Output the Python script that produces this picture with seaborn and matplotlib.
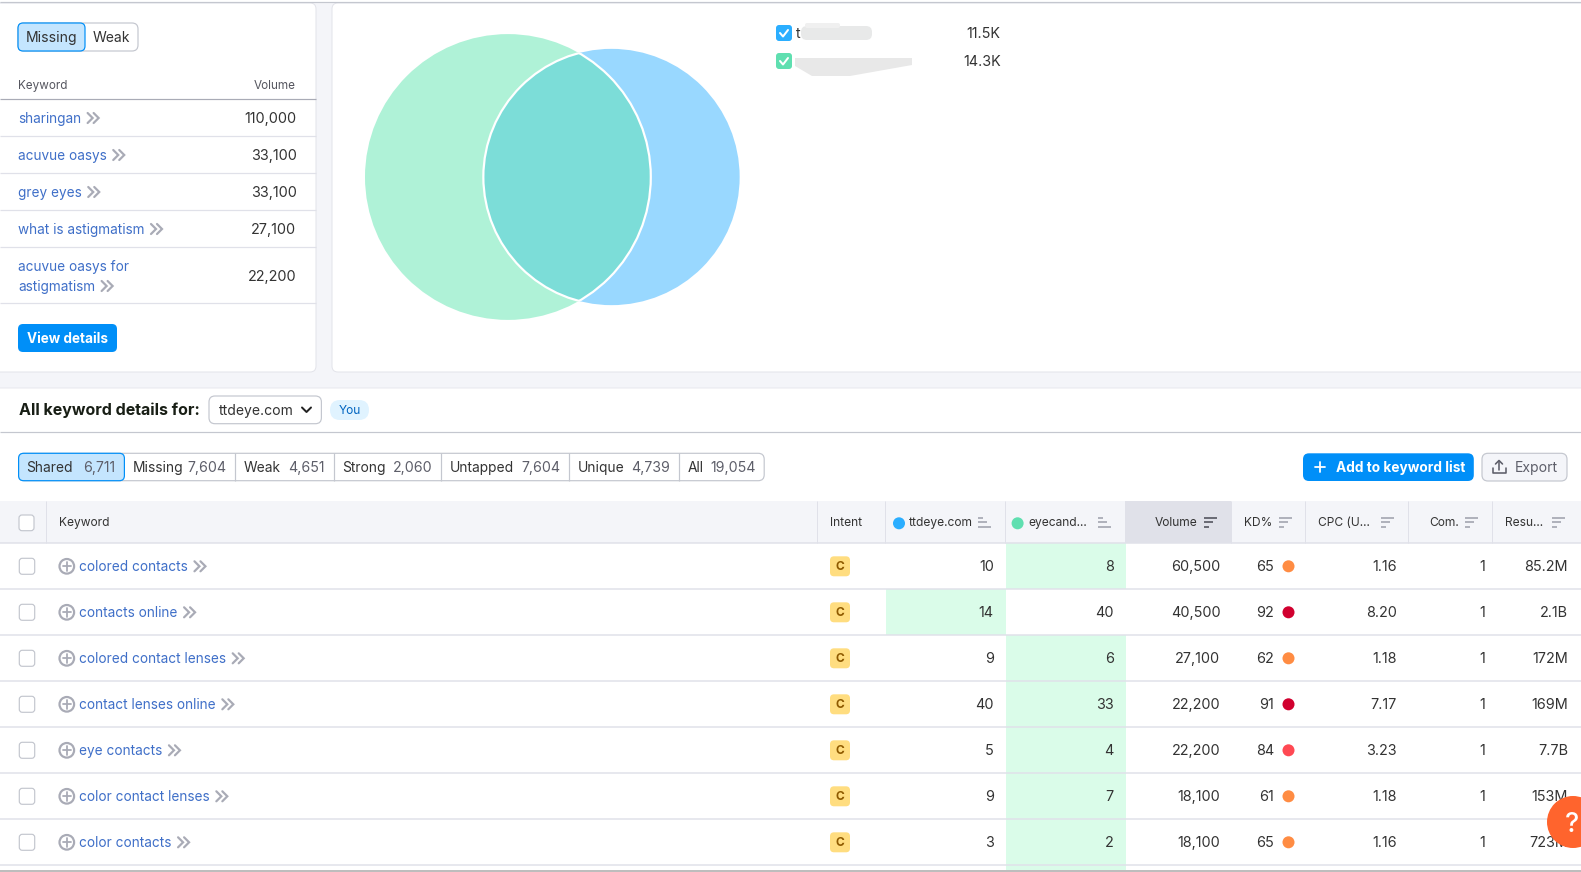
import numpy as np
import pandas as pd
import matplotlib
matplotlib.use("Agg")
import matplotlib.pyplot as plt
from matplotlib.patches import Circle, FancyBboxPatch, Rectangle, Polygon
import seaborn as sns

# ---------- data ----------
missing_keywords = ["sharingan", "acuvue oasys", "grey eyes", "what is astigmatism"]
missing_volumes = ["110,000", "33,100", "33,100", "27,100"]
domain_sizes = [11500, 14300]
domain_size_labels = ["11.5K", "14.3K"]
tab_names = ["Shared", "Missing", "Weak", "Strong", "Untapped", "Unique", "All"]
tab_counts = ["6,711", "7,604", "4,651", "2,060", "7,604", "4,739", "19,054"]
keywords = ["colored contacts", "contacts online", "colored contact lenses",
            "contact lenses online", "eye contacts", "color contact lenses", "color contacts"]
rank_ttdeye = [10, 14, 9, 40, 5, 9, 3]
rank_eyecandy = [8, 40, 6, 33, 4, 7, 2]
volumes = ["60,500", "40,500", "27,100", "22,200", "22,200", "18,100", "18,100"]
kd = [65, 92, 62, 91, 84, 61, 65]
cpc = ["1.16", "8.20", "1.18", "7.17", "3.23", "1.18", "1.16"]
com = [1, 1, 1, 1, 1, 1, 1]
results = ["85.2M", "2.1B", "172M", "169M", "7.7B", "153M", "723M"]

# ---------- style ----------
sns.set_theme(style="white")
plt.rcParams["font.family"] = ["Inter", "DejaVu Sans"]
W, H = 1581, 872
PAGE, LINE, GREY, TXT, MUTED, LINK = "#F4F5F9", "#E0E1E9", "#A9ABB6", "#333333", "#5E5F6A", "#3F6FC8"
BLUE = "#008FF8"
px = 0.72  # font px -> pt at dpi 100
LINK_SIZE = 13.6
NUM_SIZE = 14.4

fig = plt.figure(figsize=(W / 100, H / 100), dpi=100, facecolor=PAGE)
ax = fig.add_axes([0, 0, 1, 1])
ax.set_xlim(0, W)
ax.set_ylim(H, 0)
ax.axis("off")


def box(x0, y0, x1, y1, fc="white", ec="none", r=0, lw=1.0, z=1):
    p = FancyBboxPatch((x0, y0), x1 - x0, y1 - y0, boxstyle=f"round,pad=0,rounding_size={r}",
                       fc=fc, ec=ec, lw=lw * px, mutation_aspect=1, zorder=z)
    ax.add_patch(p)
    return p


def txt(x, y, s, size=14, color=TXT, ha="left", weight="normal", z=6):
    return ax.text(x, y - 0.8, s, fontsize=size * px, color=color, ha=ha, va="center_baseline",
                   fontweight=weight, zorder=z)


def num(x, y, s):
    return txt(x + 1, y, s, size=NUM_SIZE, ha="right")


def hline(y, x0, x1, color=LINE, lw=1.5, z=3):
    ax.plot([x0, x1], [y, y], color=color, lw=lw * px, zorder=z, solid_capstyle="butt")


def vline(x, y0, y1, color=LINE, lw=1.0, z=3):
    ax.plot([x, x], [y0, y1], color=color, lw=lw * px, zorder=z, solid_capstyle="butt")


def chevrons(t, y):
    bb = t.get_window_extent(fig.canvas.get_renderer())
    x = bb.x1 + 6.5
    for dx in (0, 6):
        ax.plot([x + dx, x + dx + 5, x + dx], [y - 5, y, y + 5], color=GREY, lw=2.2 * px,
                zorder=6, solid_joinstyle="miter")


def sort_icon(x, y, ascending=False, color=GREY):
    lens = [13, 9, 5]
    if ascending:
        lens = lens[::-1]
    for i, ln in enumerate(lens):
        ax.plot([x - 6.5, x - 6.5 + ln], [y - 4.5 + 4.5 * i] * 2, color=color, lw=1.8 * px,
                zorder=6, solid_capstyle="butt")


def checkbox(x0, y0, x1, y1):
    box(x0, y0, x1, y1, fc="white", ec="#C4C7CF", r=3, lw=1.2, z=6)


# ---------- cards ----------
hline(2.5, 0, W, color="#C4C7CF", lw=1.2, z=4)
ax.add_patch(Rectangle((0, 0), W, 2.5, fc="white", ec="none", zorder=0.5))
box(-10, 3, 316, 372, ec="#E3E4EA", r=6)
box(332, 3, W + 10, 372, ec="#E3E4EA", r=6)
box(-10, 388, W + 10, H + 10, ec="#E8E9EE", r=6)

# ---------- left panel ----------
box(18, 23, 138, 51, fc="white", ec="#C4C7CF", r=6, lw=1.2, z=3)
box(18, 23, 85, 51, fc="#C4E5FE", ec=BLUE, r=5, lw=1.2, z=4)
txt(51.5, 37.5, "Missing", ha="center")
txt(111.5, 37.5, "Weak", ha="center")
txt(18, 85, "Keyword", size=11.7, color="#55565F")
txt(295.5, 85, "Volume", size=11.7, color="#55565F", ha="right")
hline(99.5, 0, 316, color=GREY, lw=1.2)
for i, (k, v) in enumerate(zip(missing_keywords, missing_volumes)):
    y = 118 + 37 * i
    chevrons(txt(18, y, k, size=LINK_SIZE, color=LINK), y)
    num(295.5, y, v)
    hline(136.5 + 37 * i, 0, 316, lw=1.2)
txt(18, 266, "acuvue oasys for", size=LINK_SIZE, color=LINK)
chevrons(txt(18, 286, "astigmatism", size=LINK_SIZE, color=LINK), 286)
num(295.5, 276, "22,200")
hline(303.5, 0, 316, lw=1.2)
box(18, 324, 117, 352, fc=BLUE, r=5, z=3)
txt(67.5, 338, "View details", size=13.5, color="white", ha="center", weight="bold")

# ---------- venn: radii follow the domain sizes ----------
k_r = 1.195
r_blue, r_green = [k_r * np.sqrt(v) for v in domain_sizes]
cy = 177
cx_green, cx_blue = 507.9, 611.5
ax.add_patch(Circle((cx_blue, cy), r_blue, fc="#99D8FF", ec="none", zorder=2))
ax.add_patch(Circle((cx_green, cy), r_green, fc="#AFF2D7", ec="none", zorder=2.1))
lens = Circle((cx_blue, cy), r_blue, fc="#7CDDD8", ec="white", lw=2.2 * px, zorder=2.3)
ax.add_patch(lens)
clip = Circle((cx_green, cy), r_green, transform=ax.transData)
lens.set_clip_path(clip)
ring = Circle((cx_green, cy), r_green, fc="none", ec="white", lw=2.2 * px, zorder=2.4)
ax.add_patch(ring)
ring.set_clip_path(Circle((cx_blue, cy), r_blue, transform=ax.transData))

for y, c, lab in zip((33, 61), ("#2BAEFF", "#5FDFB0"), domain_size_labels):
    box(776, y - 8, 792, y + 8, fc=c, r=3, z=3)
    ax.plot([780, 783, 788], [y, y + 3.5, y - 3], color="white", lw=2 * px, zorder=6)
    num(999.6, y, lab)
txt(796, 33, "t", color=TXT)
box(801, 26, 872, 40, fc="#E8E9E9", r=6, z=7)
box(805, 23, 840, 28, fc="#F0F0F0", r=2, z=7)
ax.add_patch(Polygon([(795, 58), (912, 58), (912, 65), (850, 76), (812, 76), (795, 66)],
                     fc="#E8E8E8", ec="none", zorder=7))

# ---------- detail header ----------
txt(18.6, 410, "All keyword details for:", size=16, color="#181E15", weight="bold")
box(209, 396, 321.4, 423.7, fc="white", ec="#C4C7CF", r=6, lw=1.2, z=3)
txt(219, 410, "ttdeye.com")
ax.plot([302, 306.5, 311], [407.5, 412, 407.5], color="#222222", lw=2 * px, zorder=6)
box(330, 400, 369, 420, fc="#E0F3FF", r=10, z=3)
txt(349.5, 410, "You", size=12, color="#0064C0", ha="center")
hline(432.3, 0, W, color="#C4C7CF", lw=1.2)

# ---------- tabs ----------
tab_edges = [18.6, 124.4, 235.3, 333.5, 441.3, 569.3, 678.6, 764.2]
tab_label_x = [26.5, 133, 243.8, 342.6, 450, 577.8, 687.7]
tab_count_x = [115.4, 226.7, 325, 432, 560, 669.5, 756]
box(tab_edges[0], 453.3, tab_edges[-1], 480.7, fc="white", ec="#C4C7CF", r=6, lw=1.2, z=3)
box(tab_edges[0], 453.3, tab_edges[1], 480.7, fc="#C4E5FE", ec=BLUE, r=5, lw=1.2, z=4)
for e in tab_edges[2:-1]:
    vline(e, 453.3, 480.7, color="#C4C7CF", lw=1.2)
for n, c, lx, rx in zip(tab_names, tab_counts, tab_label_x, tab_count_x):
    txt(lx, 467.5, n, size=13.8)
    txt(rx, 467.5, c, size=14.2, ha="right", color=MUTED)

box(1303, 453.3, 1473.8, 481, fc=BLUE, r=6, z=3)
ax.plot([1314.5, 1324.5], [467, 467], color="white", lw=1.8 * px, zorder=6)
ax.plot([1319.5, 1319.5], [462, 472], color="white", lw=1.8 * px, zorder=6)
txt(1336, 467.5, "Add to keyword list", size=13.7, color="white", weight="bold")
box(1482, 453.3, 1567, 481, fc=PAGE, ec="#C4C7CF", r=6, lw=1.2, z=3)
ax.plot([1492.5, 1492.5, 1505.5, 1505.5], [468, 473, 473, 468], color=MUTED, lw=1.6 * px, zorder=6)
ax.plot([1499, 1499], [460.5, 469.5], color=MUTED, lw=1.6 * px, zorder=6)
ax.plot([1495.5, 1499, 1502.5], [464, 460.5, 464], color=MUTED, lw=1.6 * px, zorder=6)
txt(1514.6, 467.5, "Export", color=MUTED)

# ---------- table header ----------
HY0, HY1 = 501, 543.3
HY = 522.3
ax.add_patch(Rectangle((0, HY0), W, HY1 - HY0, fc=PAGE, ec="none", zorder=2))
ax.add_patch(Rectangle((1124.7, HY0), 106.6, HY1 - HY0, fc="#E0E1E9", ec="none", zorder=2.1))
hline(HY1, 0, W, lw=1.5)
for x in (46.3, 817.4, 885.2, 1005.2, 1231.3, 1304.8, 1408, 1491.7):
    vline(x, HY0, HY1)
checkbox(19, 515, 34, 530.7)
txt(59, HY, "Keyword", size=12)
txt(830, HY, "Intent", size=12)
txt(908.6, HY - 0.5, "ttdeye.com", size=12)
txt(1028, HY - 0.5, "eyecand...", size=12)
txt(1197, HY, "Volume", size=12, ha="right")
txt(1243.7, HY, "KD%", size=12)
txt(1318, HY, "CPC (U...", size=12)
txt(1429, HY, "Com.", size=12)
txt(1504.7, HY, "Resu...", size=12)
sort_icon(984, HY, ascending=True)
sort_icon(1104.8, HY, ascending=True)
sort_icon(1210.8, HY, color=MUTED)
for x in (1285, 1387.6, 1471.8, 1558.5):
    sort_icon(x, HY)
header_dots = pd.DataFrame({"x": [899, 1017.6], "y": [HY + 1, HY + 1], "d": ["ttdeye", "eyecandy"]})
sns.scatterplot(data=header_dots, x="x", y="y", hue="d", palette={"ttdeye": "#2BAEFF", "eyecandy": "#5FDFB0"},
                s=75, linewidth=0, legend=False, ax=ax, zorder=6)

# ---------- table rows ----------
R0, RH = 543.3, 46.0
n = len(keywords)
row_y = np.array([R0 + RH * (i + 0.5) for i in range(n)])
for i, (k, a, b, v, d, c, m, res) in enumerate(zip(keywords, rank_ttdeye, rank_eyecandy, volumes, kd, cpc, com, results)):
    y = row_y[i]
    top = R0 + RH * i
    # the better rank gets the green cell
    if a < b:
        ax.add_patch(Rectangle((886, top), 120, RH, fc="#DAFCE9", ec="none", zorder=1.5))
    else:
        ax.add_patch(Rectangle((1006, top), 120, RH, fc="#DAFCE9", ec="none", zorder=1.5))
    hline(top + RH, 0, W, lw=1.5, z=3)
    box(19.3, y - 8, 34.7, y + 8, fc="white", ec="#C4C7CF", r=3, lw=1.2, z=6)
    ax.add_patch(Circle((66.8, y), 7.3, fc="white", ec=GREY, lw=2.2 * px, zorder=6))
    ax.plot([62.5, 71], [y, y], color=GREY, lw=1.8 * px, zorder=7)
    ax.plot([66.8, 66.8], [y - 4.2, y + 4.2], color=GREY, lw=1.8 * px, zorder=7)
    chevrons(txt(79.2, y, k, size=LINK_SIZE, color=LINK), y)
    box(830, y - 10, 850, y + 10, fc="#FFDD80", r=4, z=3)
    txt(840, y, "C", size=12, color="#8F5A00", ha="center", weight="bold")
    num(992.7, y, str(a))
    num(1112.7, y, str(b))
    num(1219.3, y, v)
    num(1273, y, str(d))
    num(1396, y, c)
    num(1483.8, y, str(m))
    num(1567, y, res)

kd_colors = {d: ("#D1002F" if d >= 85 else "#FF4953" if d >= 70 else "#FF8C43") for d in kd}
kd_frame = pd.DataFrame({"kd": kd, "y": row_y})
kd_frame["x"] = 1288.5
sns.scatterplot(data=kd_frame, x="x", y="y", hue="kd", palette=kd_colors, s=75, linewidth=0,
                legend=False, ax=ax, zorder=6)

# partial next row + bottom scrollbar
ax.add_patch(Rectangle((1006, R0 + RH * n), 120, 6, fc="#DAFCE9", ec="none", zorder=1.5))
ax.add_patch(Rectangle((0, 869.5), W, 3, fc="#BDBDBD", ec="none", zorder=8))

# ---------- help bubble ----------
ax.add_patch(Circle((1573, 822), 26, fc="#FF642D", ec="none", zorder=9))
txt(1572.5, 823, "?", size=27, color="white", ha="center", weight="medium", z=10)

ax.set_xlim(0, W)
ax.set_ylim(H, 0)
ax.set_xlabel("")
ax.set_ylabel("")
fig.savefig("out.png", dpi=100, facecolor=PAGE)
